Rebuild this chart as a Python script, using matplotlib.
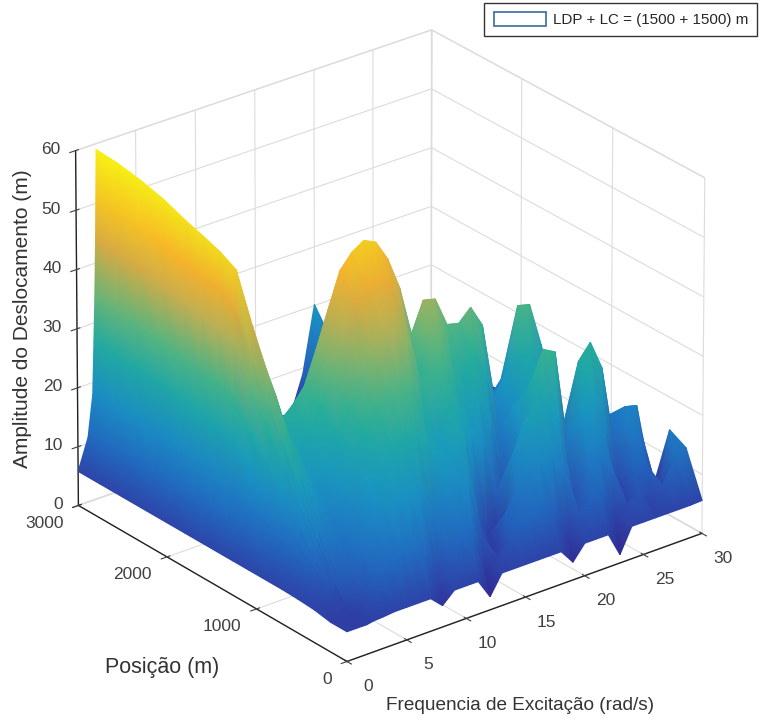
import numpy as np
import matplotlib
matplotlib.use("Agg")
from matplotlib import pyplot as plt
from matplotlib.collections import TriMesh
from matplotlib.colors import LinearSegmentedColormap, Normalize
from matplotlib.patches import Patch
from matplotlib.tri import Triangulation
from mpl_toolkits.mplot3d import proj3d

# frequency columns (rad/s)
freq = [0, 0.85, 1.27, 1.4, 1.5, 1.6, 1.65, 1.7, 2.2, 3, 4, 5, 6, 7, 8, 9, 10, 11, 12, 13, 14, 15, 16, 17,
        18, 19, 20, 21, 22, 23, 24, 25, 26, 27, 28, 29, 30]
# position rows (m)
pos = [0, 180, 360, 540, 720, 900, 1080, 1260, 1440, 1620, 1800, 2000, 2250, 2500, 2750, 3000]

# amplitude (m), one list per position
amp_p0 = [5, 5, 5, 5, 5, 5, 5, 5, 5.2, 5.3, 5.5, 5.5, 5.5, 5.5, 3.6, 5.5, 5.5, 5.5, 2.2, 5.5, 5.5, 5.5, 5.5, 5.5, 5.5, 3, 5.5, 5.5, 5.5, 1.4, 5.5, 5.5, 5.5, 5.5, 5.5, 5.5, 5.6]
amp_p180 = [5, 5, 5, 5, 5, 5, 5, 5, 5.3, 7, 9.5, 11, 12, 12, 10.5, 6, 9, 11, 11, 4, 6, 8, 10, 11, 11, 8.5, 5, 8, 10, 10, 5, 7, 8, 5.5, 8, 12, 13]
amp_p360 = [5.5, 5.8, 6.2, 6.6, 7.2, 7.7, 8, 8.5, 8, 9, 12, 15, 17.5, 19, 19, 18.5, 13, 16, 18, 17, 8, 4, 10, 13.5, 16, 17, 17, 14.5, 7, 13, 15, 12, 4, 10, 10, 4.5, 14.5]
amp_p540 = [5.7, 6.8, 8.3, 9.6, 11, 13.1, 14.5, 16, 14, 13, 13, 16.5, 19.5, 23, 25, 26, 26, 23, 21, 22, 23, 10, 5, 4, 17, 22, 24, 23, 20, 7, 19, 22, 15, 6, 15, 13, 3]
amp_p720 = [5.8, 7.6, 10, 12.3, 15, 18.2, 20.4, 23, 21, 19, 16, 19, 23, 27, 30, 32.5, 33, 31.5, 26, 22, 27, 23, 20, 18, 9, 5, 18, 26, 30.6, 29.5, 14, 26.5, 29, 24, 11, 16, 15.5]
amp_p900 = [5.8, 8.4, 11.6, 15, 19, 23.2, 26.4, 30, 27, 24, 19, 22, 26, 30, 34, 38, 40, 40, 37, 30, 31, 31, 27, 22, 23, 18, 8, 20, 22, 22, 18, 13, 10, 17, 17, 13, 7]
amp_p1080 = [5.8, 9, 13.2, 17.7, 23, 28.3, 32.3, 37, 34, 28, 23, 25, 29, 34, 39, 44, 46.5, 47, 45, 40, 29, 35, 35, 30, 26, 29, 24, 13, 18, 26, 25, 18, 10, 8, 12, 12, 6]
amp_p1260 = [5.8, 9.6, 14.6, 20.3, 26, 33.3, 38.3, 44, 40, 32, 26.6, 28.5, 31, 36.5, 42.5, 48.3, 50.7, 52, 51, 47.5, 42, 33.5, 38.5, 38, 33, 32.5, 34.5, 30.8, 18, 21, 32, 31.5, 24, 15, 6, 5, 4]
amp_p1440 = [5.8, 10.4, 16.4, 23.4, 30, 39, 45.1, 52, 46, 36, 26, 22, 20, 20, 22, 28, 34, 38, 38, 34, 28, 22, 24, 24, 20, 20, 22, 18, 10, 12, 18, 18, 14, 8, 5, 4, 3.5]
amp_p1620 = [5.8, 10.7, 17, 24.4, 31.5, 40.5, 47.5, 53.5, 48, 39, 28, 23, 19, 17, 17, 20, 24, 26, 26, 24, 20, 16, 16, 16, 15, 15, 16, 13, 8, 8, 12, 12, 10, 6, 4, 4, 3]
amp_p1800 = [5.8, 10.8, 17.2, 24.9, 31.5, 41, 47.5, 54.5, 49, 40, 30, 24, 18, 14, 12, 12, 12, 12, 12, 12, 11, 10, 10, 10, 10, 10, 10, 8, 6, 6, 6, 6, 5, 5, 4, 4, 3]
amp_p2000 = [5.8, 11, 17.7, 25.4, 32.5, 41.8, 48.2, 55.5, 49, 38, 28, 20, 14, 10, 6, 6, 6, 6, 6, 6, 6, 6, 6, 6, 6, 6, 6, 6, 6, 5, 5, 5, 5, 5, 5, 5, 5]
amp_p2250 = [5.8, 11.1, 18, 26, 33, 42.7, 49.4, 57, 50, 40, 30, 22, 16, 12, 9, 7, 5, 5, 5, 5, 5, 5, 5, 5, 5, 5, 5, 5, 5, 5, 5, 5, 5, 5, 5, 5, 5]
amp_p2500 = [5.8, 11.2, 18.3, 26.4, 33.5, 43.4, 50.2, 58, 51, 41, 30, 22, 16, 12, 9, 7, 5, 5, 5, 5, 5, 5, 5, 5, 5, 5, 5, 5, 5, 5, 5, 5, 5, 5, 5, 5, 5]
amp_p2750 = [5.8, 11.3, 18.4, 26.7, 34, 43.9, 50.7, 58.7, 52, 41.5, 31, 23, 17, 13, 10, 8, 6, 5, 4, 4, 4, 4, 4, 6, 10, 12, 11, 7, 5, 4, 4, 4, 4, 4, 4, 4, 4]
amp_p3000 = [5.8, 11, 18, 26.8, 34, 44, 51, 59, 52, 42, 31, 23, 17, 13, 10, 8, 6, 4, 4, 4, 4, 4, 3, 3, 3, 9, 20.2, 15.3, 6, 4, 4, 4, 4, 4, 4, 4, 4]

x_ticks = [0, 5, 10, 15, 20, 25, 30]
y_ticks = [0, 1000, 2000, 3000]
z_ticks = [0, 10, 20, 30, 40, 50, 60]

# parula-like map, colours (amplitude, rgb)
color_stops = [(0, (50, 35, 135)), (3, (50, 45, 150)), (6, (45, 72, 172)), (10, (35, 100, 190)),
               (15, (30, 125, 195)), (20, (25, 150, 195)), (25, (30, 165, 170)), (29, (40, 175, 150)),
               (33, (85, 180, 130)), (37, (135, 180, 105)), (41, (190, 175, 85)), (45, (225, 170, 60)),
               (49, (250, 180, 40)), (53, (240, 215, 30)), (60, (248, 245, 20))]

plt.rcParams["font.family"] = ["Liberation Sans", "DejaVu Sans"]

amp = np.array([amp_p0, amp_p180, amp_p360, amp_p540, amp_p720, amp_p900, amp_p1080, amp_p1260,
                amp_p1440, amp_p1620, amp_p1800, amp_p2000, amp_p2250, amp_p2500, amp_p2750, amp_p3000])
cmap = LinearSegmentedColormap.from_list(
    "parula_like", [(z / 60, tuple(c / 255 for c in rgb)) for z, rgb in color_stops])

W, H = 761, 722
fig = plt.figure(figsize=(W / 100, H / 100), dpi=100)
ax = fig.add_axes([-0.0007, 0.012, 1, 1], projection="3d")
ax.set_proj_type("persp", focal_length=5)
ax.view_init(elev=26.3, azim=-128.3)
ax.set_box_aspect((455, 439, 398), zoom=1.0)
ax.set_xlim(0, 30)
ax.set_ylim(0, 3000)
ax.set_zlim(0, 60)
ax.set_xticks(x_ticks)
ax.set_yticks(y_ticks)
ax.set_zticks(z_ticks)
ax.set_xticklabels([""] * len(x_ticks))
ax.set_yticklabels([""] * len(y_ticks))
ax.set_zticklabels([""] * len(z_ticks))

for axis in (ax.xaxis, ax.yaxis, ax.zaxis):
    axis.pane.set_facecolor("white")
    axis.pane.set_edgecolor("#c4c4c4")
    axis.line.set_color("#222222")
    axis.line.set_linewidth(1.0)
    axis._axinfo["grid"]["color"] = "#dcdcdc"
    axis._axinfo["grid"]["linewidth"] = 0.8
    axis.set_tick_params(colors="#404040")

fig.canvas.draw()
M = ax.get_proj()

# smooth surface: project the grid and paint the triangles back to front
X, Y = np.meshgrid(freq, pos)
xs, ys, zs = proj3d.proj_transform(X.ravel(), Y.ravel(), amp.ravel(), M)
xs, ys = np.asarray(xs), np.asarray(ys)

n_rows, n_cols = amp.shape
tris = []
# camera sits on the origin side, so far rows and far columns go first
# diagonal runs along the lobes, they lean toward high frequency with position
for i in range(n_rows - 2, -1, -1):
    for j in range(n_cols - 2, -1, -1):
        a = i * n_cols + j
        tris.append([a, a + n_cols + 1, a + n_cols])
        tris.append([a, a + 1, a + n_cols + 1])
tri = Triangulation(xs, ys, np.array(tris))

mesh = TriMesh(tri, array=amp.ravel(), cmap=cmap, norm=Normalize(0, 60), transform=ax.transData)
mesh.set_clip_on(False)
mesh.do_3d_projection = lambda: 0  # already projected above
ax.add_collection(mesh, autolim=False)


def tick_text(x, y, z, label, dx, dy, ha):
    # label next to its tick on the axis, offset in pixels
    px, py, _ = proj3d.proj_transform(x, y, z, M)
    px, py = ax.transData.transform((float(px), float(py)))
    fig.text((px + dx) / W, (py - dy) / H, label, ha=ha, va="center", fontsize=12.5, color="#404040")


for t in x_ticks:
    tick_text(t, 0, 0, str(t), 21, 25, "center")
for t in y_ticks:
    tick_text(0, t, 0, str(t), -15, 18, "right")
for t in z_ticks:
    tick_text(0, 3000, t, str(t), -15, -1, "right")

leg = fig.legend(handles=[Patch(facecolor="white", edgecolor="#3b6a96", linewidth=1.2)],
                 labels=["LDP + LC = (1500 + 1500) m"], loc="upper right",
                 bbox_to_anchor=(757 / W, 1 - 3 / H), fontsize=10.9, handlelength=3.5, handleheight=1.07,
                 handletextpad=0.4, borderpad=0.6, fancybox=False, edgecolor="#333333", framealpha=1,
                 borderaxespad=0, labelcolor="#262626")
leg.get_frame().set_linewidth(1.0)

fig.text(23 / W, 1 - 319 / H, "Amplitude do Deslocamento (m)", rotation=90, ha="center", va="center",
         fontsize=15, color="#333333")
fig.text(162 / W, 1 - 668 / H, "Posição (m)", ha="center", va="center", fontsize=15.5, color="#333333")
fig.text(520 / W, 1 - 705 / H, "Frequencia de Excitação (rad/s)", ha="center", va="center",
         fontsize=13.7, color="#333333")

fig.savefig("out.png", dpi=100)
